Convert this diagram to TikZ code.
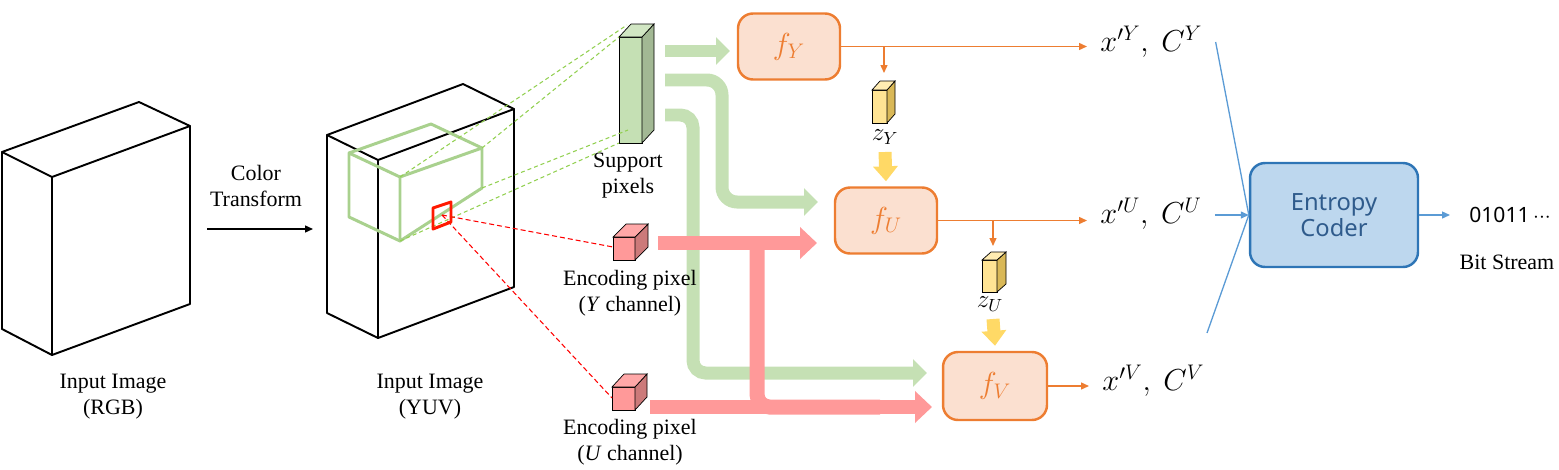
\documentclass[tikz,border=0pt]{standalone}
\usepackage{fontspec}
\setmainfont{Liberation Serif}
\setsansfont{Noto Sans}
\usetikzlibrary{arrows.meta}

\definecolor{gflowc}{HTML}{C5E0B4}
\definecolor{rflowc}{HTML}{FF9999}
\definecolor{gwire}{HTML}{A9D18E}
\definecolor{gdash}{HTML}{92D050}
\definecolor{forange}{HTML}{ED7D31}
\definecolor{ffill}{HTML}{FBE0D0}
\definecolor{eborder}{HTML}{2E75B6}
\definecolor{efill}{HTML}{BDD7EE}
\definecolor{etext}{HTML}{2F5B8C}
\definecolor{bline}{HTML}{5B9BD5}
\definecolor{zflow}{HTML}{FFD966}

% small box: x, y (front top left), width, height, dx, dy, front, side, top
\newcommand{\pixcube}[9]{%
  \filldraw[fill=#7] (#1,#2) rectangle ++(#3,#4);
  \filldraw[fill=#8] (#1+#3,#2) -- ++(#5,#6) -- ++(0,#4) -- ++(-#5,-#6) -- cycle;
  \filldraw[fill=#9] (#1,#2) -- ++(#5,#6) -- ++(#3,0) -- ++(-#5,-#6) -- cycle;
}

\begin{document}
\begin{tikzpicture}[x=0.02cm,y=-0.02cm,
  every node/.style={font=\fontsize{12.5}{14.8}\selectfont,align=center},
  cubeline/.style={line width=1.1pt,line join=round},
  fbox/.style={draw=forange,fill=ffill,line width=1.4pt,rounded corners=0.3cm,text=forange,
    font=\fontsize{17.28}{20}\selectfont,minimum width=2.04cm,minimum height=1.32cm},
  outlabel/.style={anchor=west,inner xsep=0.26cm,font=\fontsize{17.28}{19}\selectfont},
  zlabel/.style={font=\fontsize{14.4}{16}\selectfont},
  oarrow/.style={draw=forange,line width=0.8pt,-{Triangle[length=0.16cm,width=0.14cm]}},
  barrow/.style={draw=bline,line width=0.75pt,-{Triangle[length=0.16cm,width=0.14cm]}},
  gflow/.style={draw=gflowc,line width=0.26cm,-{Triangle[length=0.28cm,width=0.54cm]}},
  rflow/.style={draw=rflowc,line width=0.28cm,-{Triangle[length=0.34cm,width=0.62cm]}},
  zarrow/.style={draw=zflow,line width=0.26cm,-{Triangle[length=0.3cm,width=0.48cm]}},
  gdashed/.style={draw=gdash,line width=0.6pt,dash pattern=on 0.08cm off 0.06cm},
  rdashed/.style={draw=red,line width=0.6pt,dash pattern=on 0.1cm off 0.06cm}]

\useasboundingbox (0,0) rectangle (1559,470);

% RGB image
\draw[cubeline] (52,177) -- (190,126) -- (190,304) -- (52,355) -- cycle;
\draw[cubeline] (52,177) -- (2,152) -- (2,329) -- (52,355);
\draw[cubeline] (2,152) -- (139,102) -- (190,126);
\node (rgb) at (113,397) {Input Image\\(RGB)};

% color transform
\node (ct) at (256,186) {Color\\Transform};
\coordinate (ctA) at (207,229);
\coordinate (ctB) at (313,229);
\draw[line width=0.8pt,-{Triangle[length=0.16cm,width=0.14cm]}] (ctA) -- (ctB);

% YUV image
\draw[cubeline] (378,160) -- (514,109) -- (514,287) -- (378,338) -- cycle;
\draw[cubeline] (378,160) -- (327,135) -- (327,313) -- (378,338);
\draw[cubeline] (327,135) -- (463,84) -- (514,109);
\node (yuv) at (430,397) {Input Image\\(YUV)};

% support window
\draw[draw=gwire,line width=1.7pt,line join=round] (400,177) -- (482,148) -- (482,188) -- (400,241) -- cycle;
\draw[draw=gwire,line width=1.7pt,line join=round] (400,177) -- (349,153) -- (349,217) -- (400,241);
\draw[draw=gwire,line width=1.7pt,line join=round] (349,153) -- (431,124) -- (482,148);

% support pixels
\pixcube{619}{37}{23}{106}{12}{-13}{gflowc}{gflowc!70!black!60!gflowc}{gflowc!80!white}
\node (supp) at (628,176) {Support\\pixels};
\draw[gdashed] (400,177) -- (627,25);
\draw[gdashed] (482,148) -- (619,37);
\draw[gdashed] (482,188) -- (628,130);
\draw[gdashed] (400,241) -- (619,143);

% encoding pixels
\pixcube{613}{237}{22}{23}{13}{-13}{rflowc}{rflowc!80!black}{rflowc!85!white}
\pixcube{612}{387}{23}{23}{12}{-13}{rflowc}{rflowc!80!black}{rflowc!85!white}
\coordinate (cur) at (442,215);
\draw[rdashed] (cur) -- (613,247);
\draw[rdashed] (cur) -- (612,398);
\draw[draw=red!80!orange,line width=1.7pt,line join=round] (433,208) -- (451,202) -- (451,222) -- (433,229) -- cycle;

% networks
\node[fbox] (fY) at (789,46.5) {$f_Y$};
\node[fbox] (fU) at (886,220.5) {$f_U$};
\node[fbox,minimum width=2.08cm,minimum height=1.36cm] (fV) at (995,386) {$f_V$};

% flows
\draw[gflow] (665,51) -- (730,51);
\draw[gflow,rounded corners=0.3cm] (665,80) -- (722,80) -- (722,202) -- (818,202);
\draw[gflow,rounded corners=0.25cm] (665,115) -- (693,115) -- (693,373) -- (927,373);
\draw[rflow] (658,243) -- (817,243);
\draw[rflow] (650,407) -- (932,407);
\draw[draw=rflowc,line width=0.3cm,rounded corners=0.25cm] (757,243) -- (757,407) -- (880,407);

\node (encY) at (630,293) {Encoding pixel\\(\textit{Y} channel)};
\node (encU) at (630,442) {Encoding pixel\\(\textit{U} channel)};

% outputs
\node[outlabel] (xY) at (1087,42) {$x'^{Y},\ C^{Y}$};
\node[outlabel] (xU) at (1087,214) {$x'^{U},\ C^{U}$};
\node[outlabel] (xV) at (1089,381) {$x'^{V},\ C^{V}$};
\draw[oarrow] (fY.east) -- (fY.east -| xY.west);
\draw[oarrow] (fU.east) -- (fU.east -| xU.west);
\draw[oarrow] (fV.east) -- (fV.east -| xV.west);

% side information
\draw[oarrow] (fY.east -| 884,0) -- (884,73);
\pixcube{872}{90}{15}{33}{8}{-9}{zflow!70!white}{zflow!70!black!50!zflow}{zflow!50!white}
\node[zlabel] (zY) at (885,137) {$z_Y$};
\draw[zarrow] (885,152) -- ([yshift=0.1cm]fU.north);
\draw[oarrow] (fU.east -| 993,0) -- (993,246);
\pixcube{982}{260}{15}{32}{9}{-8}{zflow!70!white}{zflow!70!black!50!zflow}{zflow!50!white}
\node[zlabel] (zU) at (990,304) {$z_U$};
\draw[zarrow] (993,319) -- ([yshift=0.1cm]fV.north);

% entropy coder
\node[draw=eborder,fill=efill,line width=1.4pt,rounded corners=0.3cm,minimum width=3.36cm,minimum height=2.08cm,
  text=etext,font=\sffamily\fontsize{13.5}{15}\selectfont] (ent) at (1334,215) {Entropy\\Coder};
\coordinate (vin) at (1207,333);
\draw[draw=bline,line width=0.75pt] (xY.east) -- (ent.west);
\draw[barrow] (xU.east |- ent.west) -- (ent.west);
\draw[draw=bline,line width=0.75pt] (vin) -- (ent.west);
\node[anchor=west,inner sep=0pt,font=\sffamily\fontsize{12}{14}\selectfont] (bits) at (1469,215) {01011\,${\cdotp}{\cdotp}{\cdotp}$};
\draw[barrow] (ent.east) -- ([xshift=-0.38cm]bits.west);
\node (bs) at (1507,262) {Bit Stream};

\end{tikzpicture}
\end{document}
